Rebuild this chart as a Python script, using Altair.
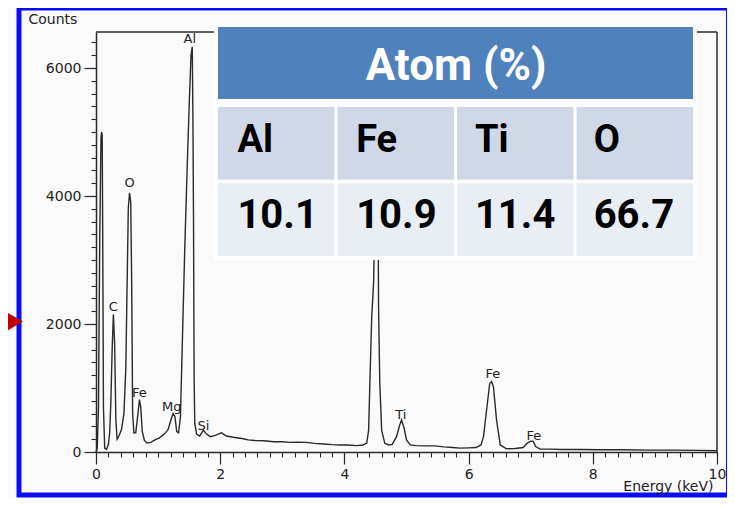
import altair as alt
import pandas as pd
import numpy as np

# ---------------- data ----------------
energy = [0.00, 0.02, 0.04, 0.06, 0.08, 0.09, 0.10, 0.11, 0.12, 0.14, 0.17, 0.20,
          0.22, 0.24, 0.26, 0.28, 0.30, 0.32, 0.34, 0.37, 0.41, 0.45, 0.48, 0.50,
          0.52, 0.54, 0.56, 0.575, 0.59, 0.61, 0.64, 0.67, 0.70, 0.72, 0.745, 0.78,
          0.82, 0.88, 0.95, 1.02, 1.10, 1.16, 1.20, 1.24, 1.27, 1.30, 1.33, 1.36,
          1.39, 1.43, 1.47, 1.50, 1.53, 1.55, 1.56, 1.57, 1.58, 1.59, 1.62, 1.67,
          1.73, 1.78, 1.84, 1.92, 2.02, 2.10, 2.21, 2.35, 2.45, 2.55, 2.70, 2.86,
          3.00, 3.12, 3.25, 3.39, 3.52, 3.66, 3.80, 3.93, 4.05, 4.20, 4.30, 4.36,
          4.39, 4.41, 4.44, 4.47, 4.50, 4.52, 4.54, 4.55, 4.57, 4.60, 4.65, 4.71,
          4.77, 4.84, 4.89, 4.92, 4.96, 5.00, 5.06, 5.15, 5.30, 5.46, 5.60, 5.75,
          5.86, 6.00, 6.12, 6.20, 6.24, 6.29, 6.34, 6.37, 6.40, 6.45, 6.51, 6.61,
          6.75, 6.88, 6.94, 7.00, 7.04, 7.08, 7.15, 7.30, 7.50, 7.80, 8.10, 8.50,
          8.90, 9.30, 9.70, 10.00]
counts = [0, 60, 700, 3300, 4900, 5000, 4950, 3000, 700, 60, 40, 120,
          300, 800, 1600, 2150, 1700, 500, 200, 250, 350, 600, 1300, 2550,
          3800, 4050, 3900, 2600, 600, 300, 300, 550, 820, 700, 320, 180,
          140, 150, 190, 220, 280, 350, 480, 600, 560, 320, 300, 550,
          1700, 3200, 4500, 5400, 6200, 6330, 5300, 3700, 1200, 450, 280, 250,
          340, 280, 240, 260, 300, 250, 230, 210, 190, 180, 175, 160,
          160, 150, 155, 150, 135, 125, 115, 110, 110, 100, 110, 140,
          340, 1070, 2110, 2640, 4200, 4700, 4300, 2270, 1070, 340, 135, 110,
          120, 240, 420, 500, 380, 190, 110, 100, 95, 95, 80, 70,
          60, 65, 70, 110, 240, 660, 1070, 1100, 1020, 500, 110, 50,
          55, 70, 135, 170, 165, 85, 45, 45, 40, 40, 35, 35,
          30, 30, 25, 20]

peak_names = ["C", "O", "Fe", "Mg", "Al", "Si", "Ti", "Fe", "Fe"]
peak_energy = [0.28, 0.54, 0.70, 1.22, 1.51, 1.73, 4.91, 6.39, 7.05]
peak_counts = [2260, 4210, 915, 710, 6450, 406, 573, 1220, 250]

table_title = "Atom (%)"
table_elements = ["Al", "Fe", "Ti", "O"]
table_values = ["10.1", "10.9", "11.4", "66.7"]
row_kinds = ["name", "value"]

x_major = [0, 2, 4, 6, 8, 10]
y_major = [0, 2000, 4000, 6000]

# ---------------- frames ----------------
spec_df = pd.DataFrame({"energy": energy, "counts": counts})
peak_df = pd.DataFrame({"name": peak_names, "energy": peak_energy, "counts": peak_counts})
cell_rows = []
for el, v in zip(table_elements, table_values):
    cell_rows.append({"el": el, "row": "name", "txt": el})
    cell_rows.append({"el": el, "row": "value", "txt": v})
cell_df = pd.DataFrame(cell_rows)
one = pd.DataFrame({"t": [table_title]})

W, H = 621, 420
INK = "#2a2a2a"
AXFONT = "DejaVu Sans"
TFONT = "Roboto"

xs = alt.Scale(domain=[0, 10], nice=False, zero=False)
ys = alt.Scale(domain=[0, 6562.5], nice=False, zero=False)

# blue outer frame and red arrow
frame = alt.Chart(one).mark_rect(fillOpacity=0, stroke="#0c0cf6", strokeWidth=5).encode(
    x=alt.value(-77), x2=alt.value(632.5), y=alt.value(-24), y2=alt.value(463))
arrow = alt.Chart(one).mark_point(shape="M -1 -1.15 L 1 0 L -1 1.15 Z", size=529, filled=True,
                                  color="#c00000", opacity=1).encode(
    x=alt.value(-84.5), y=alt.value(289.5))

# box lines top/right
top_line = alt.Chart(one).mark_rule(color=INK, strokeWidth=1.5).encode(
    x=alt.value(0), x2=alt.value(W), y=alt.value(0))
right_line = alt.Chart(one).mark_rule(color=INK, strokeWidth=1.5).encode(
    x=alt.value(W), y=alt.value(0), y2=alt.value(H))

axis_common = dict(domainColor=INK, domainWidth=1.5, tickColor=INK, tickWidth=1.2,
                   labelFont=AXFONT, labelFontSize=14, labelColor="#222", grid=False,
                   labelFlush=False, labelOverlap=False, zindex=1)

line = alt.Chart(spec_df).mark_line(color=INK, strokeWidth=1.4).encode(
    x=alt.X("energy:Q", scale=xs, axis=alt.Axis(
        orient="bottom", values=x_major, tickSize=12, labelPadding=3, format="d",
        title="Energy (keV)", titleFont=AXFONT, titleFontSize=14, titleFontWeight="normal",
        titleColor="#222", titleX=617, titleY=38, titleAlign="right", titleBaseline="alphabetic",
        **axis_common)),
    y=alt.Y("counts:Q", scale=ys, axis=alt.Axis(
        orient="left", values=y_major, tickSize=12, labelPadding=3, format="d",
        title="Counts", titleFont=AXFONT, titleFontSize=14, titleFontWeight="normal",
        titleColor="#222", titleAngle=0, titleX=-68, titleY=-9, titleAlign="left",
        titleBaseline="alphabetic", **axis_common)),
)

minor = alt.Chart(spec_df).mark_line(opacity=0).encode(
    x=alt.X("energy:Q", scale=xs, axis=alt.Axis(
        orient="bottom", values=[round(v, 1) for v in np.arange(0, 10.01, 0.2)],
        tickSize=5, labels=False, domain=False, title=None, tickColor=INK, tickWidth=1.1,
        grid=False, zindex=1)),
    y=alt.Y("counts:Q", scale=ys, axis=alt.Axis(
        orient="left", values=list(range(0, 6600, 200)),
        tickSize=5, labels=False, domain=False, title=None, tickColor=INK, tickWidth=1.1,
        grid=False, zindex=1)),
)

labels = alt.Chart(peak_df).mark_text(font=AXFONT, fontSize=13, color="#222",
                                      baseline="middle", align="center").encode(
    x=alt.X("energy:Q", scale=xs, axis=None),
    y=alt.Y("counts:Q", scale=ys, axis=None),
    text="name:N")

# table
table_bg = alt.Chart(one).mark_rect(color="white").encode(
    x=alt.value(118), x2=alt.value(601), y=alt.value(-8), y2=alt.value(228))
header = alt.Chart(one).mark_rect(color="#4f81bd").encode(
    x=alt.value(122), x2=alt.value(597), y=alt.value(-5), y2=alt.value(67))
header_text = alt.Chart(one).mark_text(font=TFONT, fontSize=44, fontWeight="bold", color="white",
                                       align="center", baseline="alphabetic").encode(
    x=alt.value(360), y=alt.value(48), text="t:N")

xband = alt.Scale(domain=table_elements, range=[122, 597], paddingInner=0.026, paddingOuter=0)
yband = alt.Scale(domain=row_kinds, range=[75, 224], paddingInner=0.047, paddingOuter=0)

cells = alt.Chart(cell_df).mark_rect().encode(
    x=alt.X("el:N", scale=xband, axis=None, sort=table_elements),
    y=alt.Y("row:N", scale=yband, axis=None, sort=row_kinds),
    color=alt.Color("row:N", scale=alt.Scale(domain=row_kinds, range=["#d0d8e8", "#e9edf4"]),
                    legend=None))

def cell_text(kind, size):
    return alt.Chart(cell_df).transform_filter(alt.datum.row == kind).mark_text(
        font=TFONT, fontSize=size, fontWeight="bold", color="black",
        align="left", baseline="middle", dx=-40, dy=-3).encode(
        x=alt.X("el:N", scale=xband, axis=None, sort=table_elements),
        y=alt.Y("row:N", scale=yband, axis=None, sort=row_kinds),
        text="txt:N")

chart = alt.layer(
    frame, arrow, top_line, right_line, minor, line, labels,
    table_bg, header, header_text, cells, cell_text("name", 38), cell_text("value", 40)
).resolve_scale(x="independent", y="independent", color="independent").properties(
    width=W, height=H,
    autosize=alt.AutoSizeParams(type="none"),
    padding={"left": 88, "top": 24, "right": 10, "bottom": 46},
    background="#fafafa",
).configure_view(strokeWidth=0)

chart.save("out.html", embed_options={"renderer": "svg", "actions": False})
